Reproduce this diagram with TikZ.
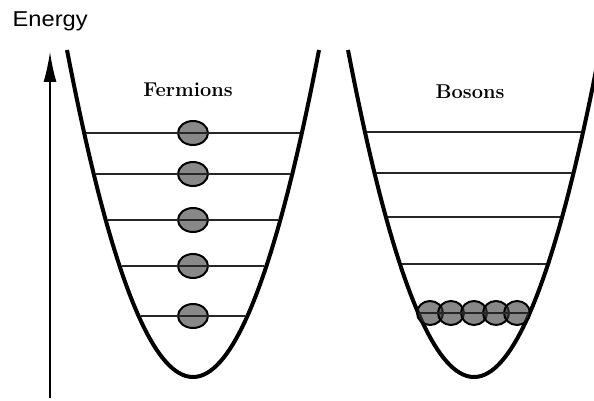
\documentclass[tikz,border=0pt]{standalone}
\usepackage{fontspec}
\newfontfamily\axisfont{Liberation Sans}
\usepackage{xcolor}
\usepackage{tikz}
\usetikzlibrary{arrows.meta,shapes.geometric}
\definecolor{partgray}{RGB}{57,57,57}

\begin{document}
\begin{tikzpicture}[x=1pt,y=-1pt,
  well/.style={line width=4pt},
  level/.style={line width=1.2pt, black!85},
  particle/.style={draw, ellipse, line width=2pt, fill=partgray, fill opacity=0.6, inner sep=0pt},
  title/.style={font=\fontsize{20}{24}\selectfont\bfseries, anchor=base}]
  \useasboundingbox (0,0) rectangle (594,401);
  \clip (0,0) rectangle (594,401);

  % energy axis
  \node[font=\axisfont\fontsize{21.5}{25}\selectfont, anchor=base west, inner sep=0pt] (energy) at (12.5,27) {\scalebox{1.1}[1]{Energy}};
  \coordinate (ebot) at (50,398);
  \coordinate (etop) at (50,52);
  \draw[line width=1.3pt, -{Latex[length=30pt,width=13pt]}] (ebot) -- (etop);

  % the two wells
  \draw[well] plot[domain=-126:126, samples=80] ({193+\x},{377-327*(\x/126)^2});
  \draw[well] plot[domain=-126:126, samples=80] ({474+\x},{377-327*(\x/126)^2});

  % fermions: one per level
  \foreach \y in {133,174,220,266,316} {
    \node[particle, minimum width=30pt, minimum height=24pt] (f\y) at (193,\y) {};
  }
  % bosons: all in the lowest level
  \foreach \x [count=\i] in {430,451,474,496,517} {
    \node[particle, minimum width=26pt, minimum height=24pt] (b\i) at (\x,313) {};
  }

  % levels
  \foreach \y in {133,174,220,266,316} {
    \pgfmathsetmacro{\hw}{126*sqrt((377-\y)/327)-2}
    \draw[level] ({193-\hw},\y) -- ({193+\hw},\y);
  }
  \foreach \y in {132,173,217,264,313} {
    \pgfmathsetmacro{\hw}{126*sqrt((377-\y)/327)-2}
    \draw[level] ({474-\hw},\y) -- ({474+\hw},\y);
  }

  \node[title] (fermions) at (188,97) {Fermions};
  \node[title] (bosons) at (470,99) {Bosons};
\end{tikzpicture}
\end{document}
